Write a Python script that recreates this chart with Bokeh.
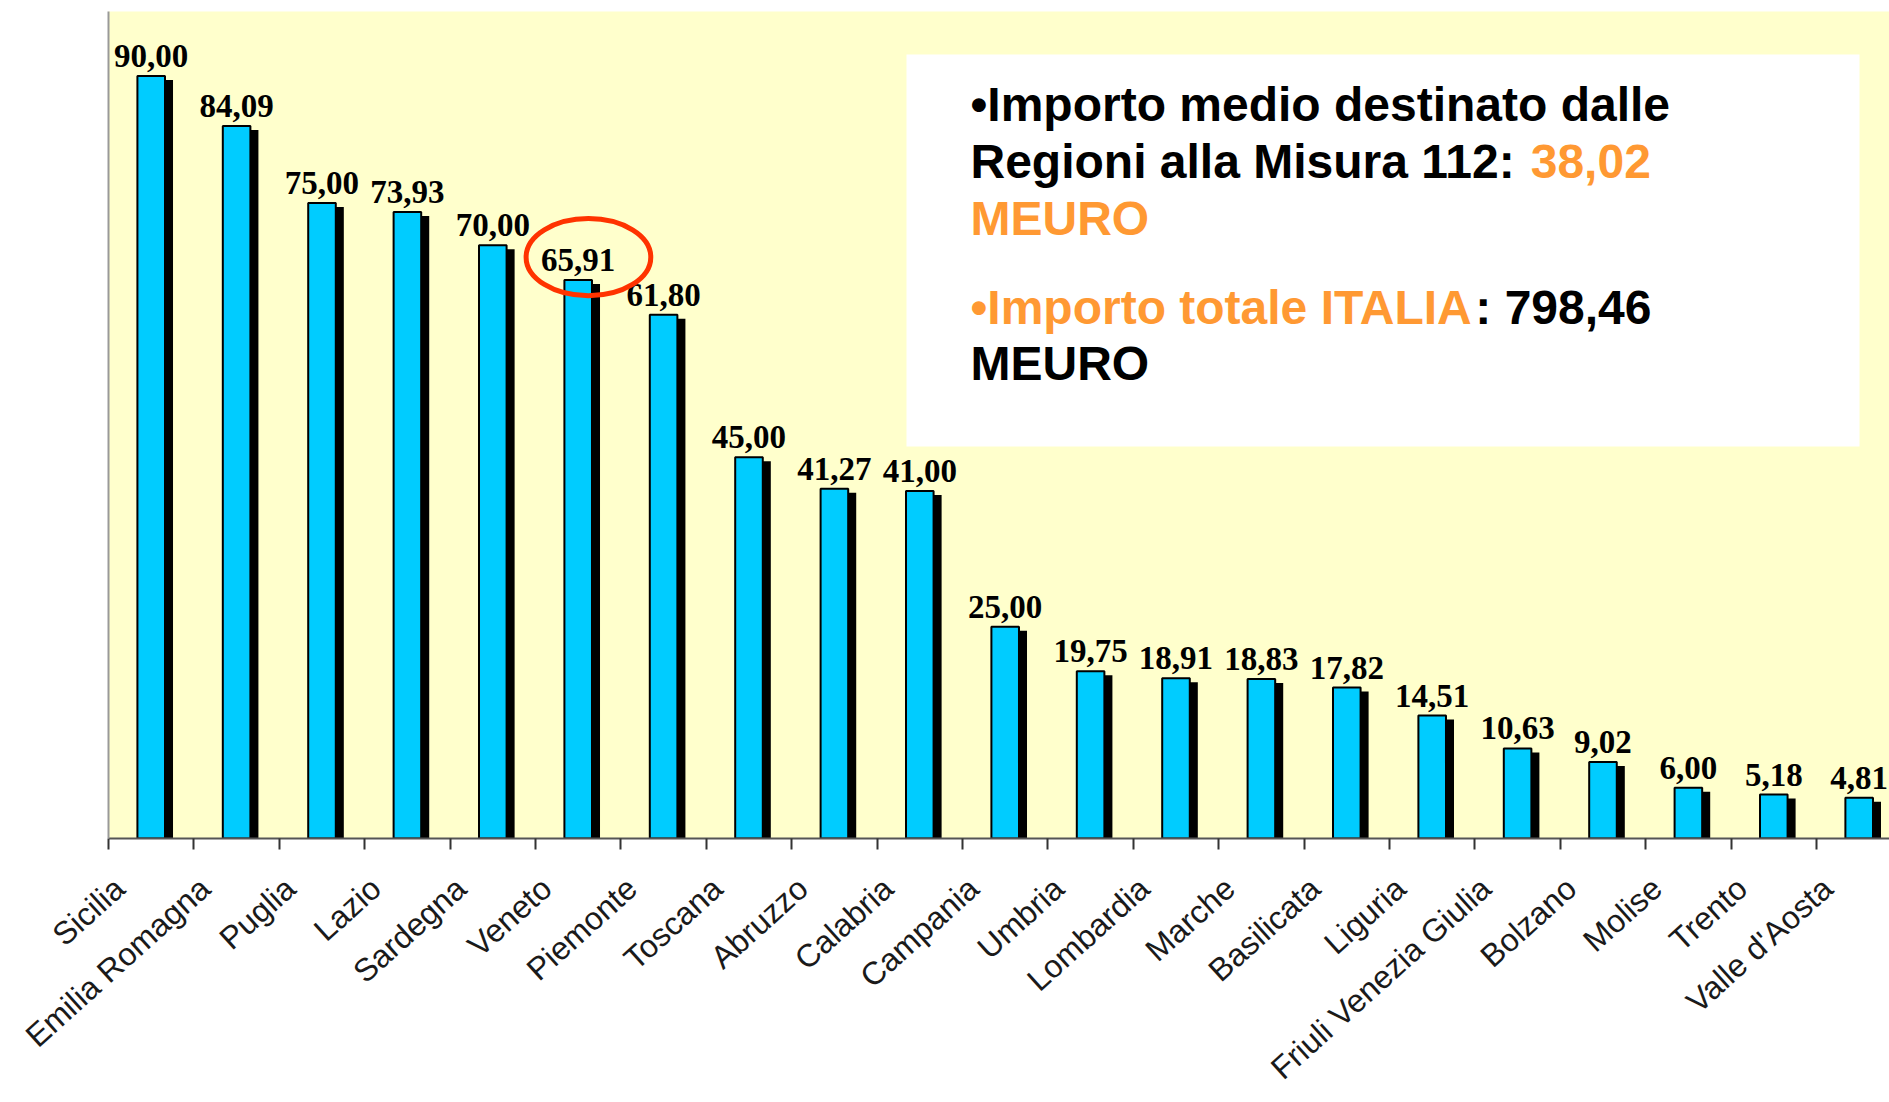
import math
from bokeh.plotting import figure
from bokeh.models import Range1d, FixedTicker, Label, BoxAnnotation
from bokeh.core.properties import value
from bokeh.embed import file_html
from bokeh.resources import INLINE

# ---- data ----
regions = ["Sicilia", "Emilia Romagna", "Puglia", "Lazio", "Sardegna", "Veneto",
           "Piemonte", "Toscana", "Abruzzo", "Calabria", "Campania", "Umbria",
           "Lombardia", "Marche", "Basilicata", "Liguria", "Friuli Venezia Giulia",
           "Bolzano", "Molise", "Trento", "Valle d'Aosta"]
importi = [90.00, 84.09, 75.00, 73.93, 70.00, 65.91, 61.80, 45.00, 41.27, 41.00,
           25.00, 19.75, 18.91, 18.83, 17.82, 14.51, 10.63, 9.02, 6.00, 5.18, 4.81]
highlight = "Veneto"
media_label = "38,02"
totale_label = "798,46"

# ---- style ----
BG = "#FFFFCC"
CYAN = "#00CCFF"
ORANGE = "#FF9933"
RED = "#FF3300"

n = len(regions)
xs = [i + 0.5 for i in range(n)]
bar_w = 0.323
shadow_dx = 0.094
shadow_dy = 0.47

p = figure(width=1889, height=1102, x_range=Range1d(0, 20.855), y_range=Range1d(0, 97.6),
           output_backend="svg", toolbar_location=None,
           min_border_left=108, min_border_right=0, min_border_top=11, min_border_bottom=264)
p.background_fill_color = BG
p.border_fill_color = "white"
p.outline_line_color = None
p.xgrid.visible = False
p.ygrid.visible = False

# shadows
p.vbar(x=[x + shadow_dx for x in xs], top=[v - shadow_dy for v in importi], width=bar_w,
       fill_color="black", line_color=None)
# bars
p.vbar(x=xs, top=importi, width=bar_w, fill_color=CYAN, line_color="black", line_width=2)

# value labels
txt = [f"{v:.2f}".replace(".", ",") for v in importi]
p.text(x=xs, y=importi, text=txt, text_font=value("Liberation Serif"), text_font_style="bold",
       text_font_size="33px", text_align="center", text_baseline="alphabetic",
       y_offset=-20, text_color="black")

# highlight ellipse around Veneto
iv = regions.index(highlight)
p.ellipse(x=[xs[iv] + 0.12], y=[importi[iv] + 2.7], width=1.46, height=9.1,
          fill_color=None, line_color=RED, line_width=5)

# x axis
label_ticks = [round(i + 0.5 - 0.37, 3) for i in range(n)]
xa = p.xaxis[0]
xa.ticker = FixedTicker(ticks=label_ticks, minor_ticks=list(range(n + 1)))
xa.major_label_overrides = dict(zip(label_ticks, regions))
xa.major_tick_line_color = None
xa.major_tick_out = 11
xa.major_tick_in = 0
xa.minor_tick_out = 11
xa.minor_tick_in = 0
xa.minor_tick_line_color = "#333333"
xa.minor_tick_line_width = 2
xa.axis_line_color = "#555555"
xa.axis_line_width = 2
xa.major_label_orientation = math.radians(42)
xa.major_label_standoff = 34
xa.major_label_text_font = "Liberation Sans"
xa.major_label_text_font_size = "32px"
xa.major_label_text_color = "#1a1a1a"

# y axis: only the line
ya = p.yaxis[0]
ya.ticker = FixedTicker(ticks=[])
ya.major_tick_line_color = None
ya.minor_tick_line_color = None
ya.axis_line_color = "#999999"
ya.axis_line_width = 2

# text panel
p.add_layout(BoxAnnotation(left=798, right=1751, top=784, bottom=392,
                           left_units="screen", right_units="screen",
                           top_units="screen", bottom_units="screen",
                           fill_color="white", fill_alpha=1.0, line_color=None, level="overlay"))

FS = 48
W = {'R': .722, 'e': .556, 'g': .611, 'i': .278, 'o': .611, 'n': .611, ' ': .278, 'a': .556,
     'l': .278, 'M': .833, 's': .556, 'u': .611, 'r': .389, '1': .556, '2': .556, ':': .333,
     '•': .35, 'I': .278, 'm': .889, 'p': .611, 't': .333, 'T': .611, 'A': .722, 'L': .611}


def tw(s):
    return sum(W.get(c, .556) for c in s) * FS


x0 = 862
lines = [
    [("•Importo medio destinato dalle", "black")],
    [("Regioni alla Misura 112: ", "black"), (media_label, ORANGE)],
    [("MEURO", ORANGE)],
    [("•Importo totale ITALIA", ORANGE), (": " + totale_label, "black")],
    [("MEURO", "black")],
]
ys = [734, 677, 620, 531, 475]
for segs, yy in zip(lines, ys):
    xx = x0
    for s, c in segs:
        p.add_layout(Label(x=xx, y=yy, x_units="screen", y_units="screen", text=s,
                           text_font="Liberation Sans", text_font_style="bold",
                           text_font_size=f"{FS}px", text_color=c, text_baseline="alphabetic",
                           level="overlay"))
        xx += tw(s)

open("out.html", "w").write(file_html(p, INLINE))
